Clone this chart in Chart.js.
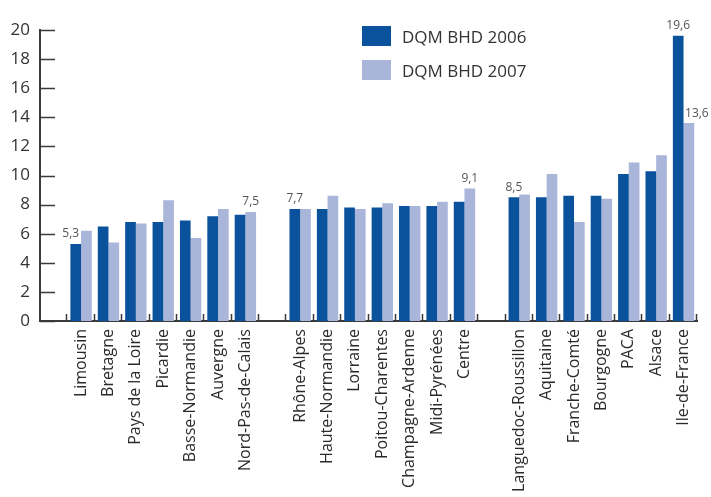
<!DOCTYPE html>
<html>
<head>
<meta charset="utf-8">
<script src="https://cdn.jsdelivr.net/npm/chart.js@4.4.1/dist/chart.umd.min.js"></script>
<style>
  html, body { margin: 0; padding: 0; background: #fff; overflow: hidden; }
  #wrap { position: relative; width: 711px; height: 497px; }
  #legend { position: absolute; left: 362px; top: 26px; font-family: "Open Sans", sans-serif; font-size: 17px; color: #333; }
  #legend div { display: flex; align-items: center; height: 20px; margin-bottom: 14px; }
  #legend span.box { display: inline-block; width: 29px; height: 20px; margin-right: 11px; }
</style>
</head>
<body>
<div id="wrap">
  <canvas id="dqmchart" width="711" height="497"></canvas>
  <div id="legend"></div>
</div>
<script>
const ctx = document.getElementById('dqmchart');

// empty labels are the gaps between the three groups
const regions = ['', 'Limousin', 'Bretagne', 'Pays de la Loire', 'Picardie', 'Basse-Normandie', 'Auvergne', 'Nord-Pas-de-Calais',
  ' ', 'Rhône-Alpes', 'Haute-Normandie', 'Lorraine', 'Poitou-Charentes', 'Champagne-Ardenne', 'Midi-Pyrénées', 'Centre',
  '  ', 'Languedoc-Roussillon', 'Aquitaine', 'Franche-Comté', 'Bourgogne', 'PACA', 'Alsace', 'Ile-de-France'];
const dqm2006 = [null, 5.3, 6.5, 6.8, 6.8, 6.9, 7.2, 7.3, null, 7.7, 7.7, 7.8, 7.8, 7.9, 7.9, 8.2, null, 8.5, 8.5, 8.6, 8.6, 10.1, 10.3, 19.6];
const dqm2007 = [null, 6.2, 5.4, 6.7, 8.3, 5.7, 7.7, 7.5, null, 7.7, 8.6, 7.7, 8.1, 7.9, 8.2, 9.1, null, 8.7, 10.1, 6.8, 8.4, 10.9, 11.4, 13.6];
const labelled2006 = ['Limousin', 'Rhône-Alpes', 'Languedoc-Roussillon', 'Ile-de-France'];
const labelled2007 = ['Nord-Pas-de-Calais', 'Centre', 'Ile-de-France'];
const yTicks = [0, 2, 4, 6, 8, 10, 12, 14, 16, 18, 20];

const dark = '#0a529c';
const light = '#a9b5d9';
const axisColor = '#3a3a3a';

// ticks drawn inward like the original
const innerTicks = {
  id: 'innerTicks',
  afterDraw(chart) {
    const c = chart.ctx, y = chart.scales.y;
    const area = chart.chartArea;
    c.save();
    c.strokeStyle = axisColor;
    c.lineWidth = 1.5;
    yTicks.forEach(v => {
      const py = Math.round(y.getPixelForValue(v)) + 0.5;
      c.beginPath(); c.moveTo(area.left, py); c.lineTo(area.left + 15, py); c.stroke();
    });
    const w = (area.right - area.left) / regions.length;
    for (let i = 1; i <= regions.length; i++) {
      const px = Math.round(area.left + i * w) - 0.5;
      c.beginPath(); c.moveTo(px, area.bottom); c.lineTo(px, area.bottom - 7); c.stroke();
    }
    c.restore();
  }
};

const valueLabels = {
  id: 'valueLabels',
  afterDatasetsDraw(chart) {
    const c = chart.ctx;
    c.save();
    c.font = '12px "Open Sans", sans-serif';
    c.fillStyle = '#555';
    c.textAlign = 'center';
    c.textBaseline = 'bottom';
    [labelled2006, labelled2007].forEach((names, di) => {
      const meta = chart.getDatasetMeta(di);
      names.forEach(n => {
        const i = regions.indexOf(n);
        const bar = meta.data[i];
        const v = chart.data.datasets[di].data[i];
        let dx = 0;
        if (di === 0 && n === 'Limousin') dx = -5;
        if (di === 1 && n === 'Ile-de-France') dx = 8;
        c.fillText(v.toFixed(1).replace('.', ','), bar.x + dx, bar.y - 4);
      });
    });
    c.restore();
  }
};

new Chart(ctx, {
  type: 'bar',
  data: {
    labels: regions,
    datasets: [
      { label: 'DQM BHD 2006', data: dqm2006, backgroundColor: dark, barPercentage: 1.0, categoryPercentage: 0.78 },
      { label: 'DQM BHD 2007', data: dqm2007, backgroundColor: light, barPercentage: 1.0, categoryPercentage: 0.78 }
    ]
  },
  options: {
    responsive: false,
    animation: false,
    layout: { padding: { top: 30, right: 12, left: 0, bottom: 0 } },
    plugins: {
      legend: { display: false },
      tooltip: { enabled: false }
    },
    scales: {
      x: {
        grid: { display: false, drawTicks: false },
        border: { display: true, color: axisColor, width: 2 },
        ticks: {
          autoSkip: false,
          minRotation: 90,
          maxRotation: 90,
          padding: 8,
          color: '#2a2a2a',
          font: { family: "'Open Sans', sans-serif", size: 16 }
        },
        afterFit(scale) { scale.height = 176; }
      },
      y: {
        min: 0,
        max: 20,
        ticks: {
          stepSize: 2,
          padding: 10,
          color: '#333',
          font: { family: '"Open Sans", sans-serif', size: 17 }
        },
        grid: { display: false, drawTicks: false },
        border: { display: true, color: axisColor, width: 2 },
        afterFit(scale) { scale.width = 40; }
      }
    }
  },
  plugins: [innerTicks, valueLabels]
});

// legend as html text
const legend = document.getElementById('legend');
[['DQM BHD 2006', dark], ['DQM BHD 2007', light]].forEach(([t, col]) => {
  const row = document.createElement('div');
  row.innerHTML = '<span class="box" style="background:' + col + '"></span>' + t;
  legend.appendChild(row);
});
</script>
</body>
</html>
